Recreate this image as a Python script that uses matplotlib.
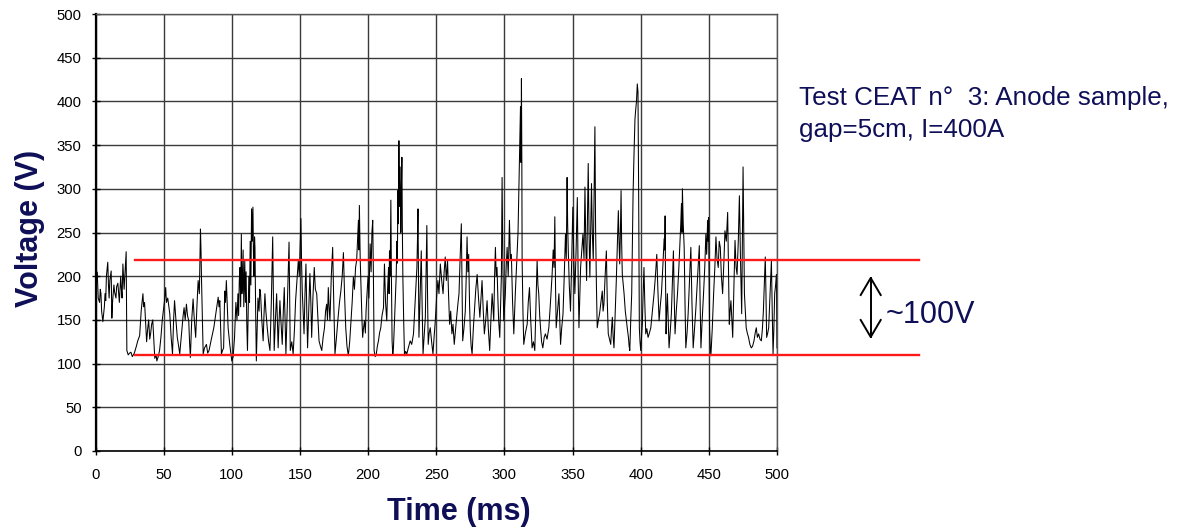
import matplotlib
matplotlib.use("Agg")
import matplotlib.pyplot as plt
from matplotlib.lines import Line2D

# ---- data: (time ms, voltage V) ----
seg_0_100 = [
    (0.5, 183), (1, 205), (1.5, 195), (2, 175), (3, 170), (3.5, 185), (4, 180), (4.5, 160), (5.4, 148), (6, 158),
    (6.5, 165), (7, 180), (7.5, 172), (8, 200), (9, 216), (9.5, 190), (10, 175), (10.5, 195), (11.5, 206), (12, 152),
    (12.5, 170), (13.5, 190), (14, 182), (15, 175), (15.5, 188), (16.4, 192), (17, 180), (17.5, 170), (18.5, 200),
    (19, 185), (19.5, 175), (20.1, 214), (21, 185), (21.5, 200), (22.5, 228), (23, 115), (24, 110), (25, 112),
    (26, 113), (27, 108), (28.5, 112), (30, 120), (31, 126), (32.4, 132), (33.5, 160), (34.8, 180), (35.3, 165),
    (36, 170), (37, 140), (37.5, 125), (38.3, 140), (39, 150), (39.8, 128), (40.5, 135), (41.2, 145), (42, 150),
    (43, 120), (43.5, 106), (44.5, 110), (45, 103), (46, 108), (47, 115), (48, 130), (49, 150), (50.5, 170),
    (51.5, 187), (52, 170), (53, 175), (54.5, 157), (55.5, 130), (56.5, 111), (57.3, 150), (58, 172), (59, 150),
    (60, 130), (61, 120), (61.8, 111), (62.6, 125), (63.5, 140), (64.3, 155), (65, 164), (65.8, 150), (66.7, 168),
    (67.5, 155), (68.4, 149), (69, 125), (69.6, 107), (70.6, 150), (71.6, 174), (72.5, 150), (73.5, 130),
    (74.4, 165), (75.3, 195), (76.2, 180), (77, 254), (77.4, 230), (77.8, 195), (78.4, 150), (79, 111), (80, 118),
    (81.4, 122), (82.3, 112), (83.3, 115), (85, 128), (86.8, 141), (88.5, 160), (90, 176), (90.6, 165), (91.2, 172),
    (92.4, 111), (93.2, 115), (94, 118), (94.8, 183), (95.4, 170), (96, 195), (96.7, 165), (97.3, 141), (98.5, 122),
    (99.3, 112), (100, 103),
]
seg_100_200 = [
    (101, 108), (102, 130), (103, 170), (103.8, 150), (104.5, 180), (105, 155), (105.5, 195), (106, 210),
    (106.5, 165), (107, 248), (107.4, 180), (107.8, 190), (108.3, 230), (108.8, 165), (109.5, 218), (110, 170),
    (110.5, 205), (111, 145), (111.5, 115), (112, 160), (112.5, 200), (113, 170), (113.5, 240), (114, 190),
    (114.5, 277), (115, 240), (115.5, 279), (116, 210), (116.3, 200), (116.7, 245), (117, 233), (117.5, 160),
    (118, 103), (118.6, 140), (119.2, 175), (120, 160), (120.5, 185), (121, 183), (122, 150), (123, 126),
    (123.6, 155), (124.3, 180), (125, 160), (126, 141), (127, 125), (128, 115), (129, 170), (130, 245), (130.5, 180),
    (131.1, 115), (132, 150), (132.9, 180), (133.4, 150), (134, 118), (134.6, 145), (135.3, 172), (136, 150),
    (137, 122), (137.8, 160), (138.5, 187), (139.1, 150), (139.7, 111), (140.8, 170), (142, 239), (142.4, 180),
    (142.9, 115), (144, 125), (145, 111), (146, 140), (146.8, 172), (147.8, 195), (148.8, 218), (149.5, 200),
    (150.2, 240), (150.7, 266), (151.2, 215), (151.7, 183), (152.3, 160), (153, 134), (153.7, 180), (154.4, 214),
    (155, 160), (155.6, 118), (156.4, 160), (157.3, 203), (158, 170), (158.6, 130), (159.5, 175), (160.5, 210),
    (161.3, 185), (162.3, 180), (163.2, 150), (164, 126), (165, 120), (166, 115), (167, 130), (168, 141),
    (168.8, 160), (169.6, 168), (170.2, 150), (170.8, 187), (171.4, 165), (172, 149), (173, 200), (174, 233),
    (174.8, 170), (175.7, 111), (176.8, 130), (178, 153), (179, 170), (180, 183), (181, 200), (181.9, 227),
    (182.7, 180), (183.6, 141), (184.5, 120), (185.5, 109), (186.5, 125), (187.5, 149), (188.3, 170), (189.2, 199),
    (190, 185), (190.8, 210), (191.6, 218), (192.2, 240), (192.9, 264), (193.3, 230), (193.6, 281), (194.2, 220),
    (194.9, 180), (195.5, 150), (196, 130), (196.6, 140), (197.3, 149), (198, 135), (198.5, 160), (199.2, 180),
    (200, 200),
]
seg_200_300 = [
    (200.6, 175), (201.5, 237), (202.2, 205), (202.8, 250), (203.4, 264), (203.9, 200), (204.4, 115), (205.2, 108),
    (206, 111), (206.8, 120), (207.6, 126), (208.4, 135), (209.3, 141), (210.2, 155), (211.3, 164), (212, 214),
    (212.8, 170), (213.7, 149), (214.3, 185), (215, 210), (215.4, 180), (215.7, 229), (216.2, 200), (216.7, 287),
    (217.1, 200), (217.6, 126), (218.1, 110), (218.6, 118), (219.6, 160), (220.6, 199), (221.1, 240), (221.5, 215),
    (221.8, 298), (222.2, 260), (222.6, 355), (223, 280), (223.5, 325), (224, 250), (224.4, 300), (224.8, 336),
    (225.1, 260), (225.5, 199), (226.1, 150), (226.7, 109), (227.5, 114), (228.4, 111), (229.5, 118), (230.9, 126),
    (232, 122), (233.3, 134), (234.5, 170), (235.8, 210), (236.2, 240), (236.6, 277), (237, 200), (237.3, 130),
    (238.2, 180), (239, 229), (239.6, 170), (240.3, 111), (241.1, 130), (242, 153), (242.6, 210), (243.1, 258),
    (243.6, 180), (244.1, 122), (244.8, 135), (245.6, 141), (246.6, 125), (247.6, 111), (248.4, 130), (249.3, 149),
    (250.2, 175), (251.2, 195), (252, 180), (253, 214), (254, 195), (255, 180), (255.8, 205), (256.6, 222),
    (257.4, 195), (258.3, 218), (259, 180), (259.8, 145), (260.6, 160), (261.5, 134), (262.3, 145), (263.2, 122),
    (264.2, 140), (265.2, 157), (266, 170), (266.7, 180), (267.5, 220), (268.4, 260), (268.9, 190), (269.4, 126),
    (270.3, 140), (271.3, 160), (272, 200), (272.6, 245), (273.2, 205), (273.8, 225), (274.4, 170), (275, 137),
    (275.6, 120), (276.3, 111), (277.2, 140), (278.2, 164), (279, 185), (280, 202), (281, 175), (282, 153),
    (282.8, 175), (283.6, 195), (284.5, 160), (285.3, 134), (286.3, 150), (287.3, 172), (288.2, 140), (289.2, 115),
    (290.1, 150), (291, 180), (291.6, 165), (292.2, 149), (292.8, 200), (293.4, 233), (294, 200), (294.6, 210),
    (295.2, 175), (295.8, 149), (296.6, 130), (297.2, 165), (297.8, 202), (298.3, 313), (298.9, 210), (299.5, 149),
    (300.1, 165), (300.7, 180),
]
seg_300_400 = [
    (301.3, 210), (302, 233), (302.8, 200), (303.7, 264), (304.4, 220), (305.1, 225), (306, 170), (306.9, 134),
    (307.5, 160), (308, 180), (308.7, 205), (309.3, 225), (310, 250), (310.6, 298), (311.2, 340), (311.8, 394),
    (312.2, 330), (312.5, 426), (312.8, 330), (313, 218), (313.6, 160), (314.2, 122), (315.4, 135), (316.7, 145),
    (317.5, 170), (318.4, 187), (319.3, 150), (320.3, 118), (321.3, 125), (322.3, 115), (323.2, 170), (324, 218),
    (324.6, 190), (325.2, 180), (325.9, 155), (326.5, 141), (327.3, 125), (328.2, 118), (329.2, 130), (330.1, 134),
    (331.3, 128), (332.6, 141), (333.8, 170), (335, 202), (335.8, 230), (336.4, 210), (337, 268), (337.5, 190),
    (338, 141), (339, 160), (340, 180), (340.6, 150), (341.2, 122), (342, 140), (343, 157), (343.9, 200),
    (344.8, 248), (345.4, 220), (346, 313), (346.4, 260), (346.8, 233), (347.6, 190), (348.5, 160), (349.4, 220),
    (350.2, 279), (350.9, 220), (351.7, 180), (352.6, 230), (353.5, 290), (354.1, 200), (354.7, 141), (355.3, 175),
    (355.9, 210), (356.8, 230), (357.6, 248), (358.4, 220), (359.1, 302), (359.7, 240), (360.3, 195), (360.9, 260),
    (361.5, 329), (362.1, 250), (362.7, 199), (363.3, 250), (363.9, 306), (364.5, 250), (365.2, 218), (365.8, 290),
    (366.4, 371), (366.7, 300), (366.9, 256), (367.5, 190), (368.1, 141), (369, 150), (369.8, 157), (370.8, 170),
    (371.8, 183), (372.4, 160), (373, 168), (373.9, 200), (374.8, 229), (375.5, 170), (376.2, 134), (377.1, 128),
    (378, 122), (378.6, 140), (379.2, 153), (379.8, 130), (380.4, 118), (381.3, 160), (382.1, 195), (382.9, 240),
    (383.6, 275), (384.1, 240), (384.6, 214), (385.1, 250), (385.6, 298), (386, 240), (386.5, 202), (387.2, 190),
    (387.8, 180), (388.7, 160), (389.5, 149), (390.2, 140), (391, 130), (391.5, 120), (392, 115), (392.7, 150),
    (393.4, 180), (393.9, 240), (394.4, 294), (395.1, 340), (395.8, 380), (396.3, 390), (396.9, 400), (397.5, 420),
    (398, 411), (398.5, 294), (399, 141), (399.5, 125), (400, 115),
]
seg_400_500 = [
    (400.6, 130), (401.2, 145), (401.8, 180), (402.4, 210), (403, 170), (403.7, 134), (404.5, 140), (405.4, 130),
    (406.4, 135), (407.4, 141), (408.6, 160), (409.8, 180), (410.8, 200), (411.8, 225), (412.6, 185), (413.5, 149),
    (414.3, 165), (415.2, 180), (416.2, 210), (417.2, 243), (417.6, 230), (417.9, 269), (418.2, 200), (418.6, 134),
    (419.1, 160), (419.6, 180), (420.2, 150), (420.8, 118), (421.6, 135), (422.5, 157), (423.2, 190), (424, 229),
    (424.6, 175), (425.2, 134), (426.1, 160), (427, 180), (428, 210), (428.9, 241), (429.4, 260), (429.9, 283),
    (430.3, 250), (430.6, 300), (431.2, 260), (431.9, 233), (432.5, 170), (433.1, 118), (434, 135), (434.8, 157),
    (435.8, 195), (436.8, 233), (437.6, 170), (438.5, 118), (439.5, 140), (440.5, 164), (441.8, 200), (443, 235),
    (443.6, 170), (444.2, 118), (445.1, 150), (446.1, 180), (447, 210), (447.8, 248), (448.4, 225), (449.1, 264),
    (449.5, 240), (449.8, 267), (450.2, 200), (450.5, 141), (451, 120), (451.5, 109), (452.5, 140), (453.5, 180),
    (454.4, 210), (455.2, 245), (456, 220), (456.9, 210), (457.6, 240), (458.4, 233), (459.2, 200), (460.1, 180),
    (461, 215), (461.8, 252), (462.8, 240), (463.8, 273), (464.4, 210), (465, 145), (465.6, 160), (466.2, 172),
    (466.9, 150), (467.5, 130), (468.3, 180), (469.2, 241), (470, 210), (470.7, 202), (471.6, 240), (472.4, 292),
    (473.2, 220), (474.1, 157), (474.6, 240), (475.1, 325), (475.6, 250), (476.1, 180), (476.8, 160), (477.4, 141),
    (478.2, 135), (479.1, 130), (480.1, 122), (481.1, 118), (482.1, 120), (483.1, 126), (484, 135), (484.8, 141),
    (485.6, 130), (486.5, 134), (487.5, 128), (488.5, 126), (489.3, 140), (490, 160), (490.7, 190), (491.4, 222),
    (491.9, 180), (492.4, 130), (493.2, 135), (493.9, 141), (494.9, 180), (495.9, 218), (496.5, 160), (497.1, 111),
    (497.7, 140), (498.3, 180), (499, 190), (499.6, 202), (500, 118),
]

band_levels = [218, 110]          # red reference lines (V)
band_span = [29, 604]             # their extent in ms (runs past the plot)
x_ticks = [0, 50, 100, 150, 200, 250, 300, 350, 400, 450, 500]
y_ticks = [0, 50, 100, 150, 200, 250, 300, 350, 400, 450, 500]

title_lines = ["Test CEAT n\u00b0  3: Anode sample,", "gap=5cm, I=400A"]
band_label = "~100V"
x_label = "Time (ms)"
y_label = "Voltage (V)"

series = seg_0_100 + seg_100_200 + seg_200_300 + seg_300_400 + seg_400_500
time_ms = [p[0] for p in series]
voltage_v = [p[1] for p in series]

# ---- figure ----
W, H = 1192, 532
plt.rcParams['font.family'] = ['Liberation Sans', 'DejaVu Sans']
fig = plt.figure(figsize=(W / 100, H / 100), dpi=100)
fig.patch.set_facecolor('white')

def fx(px):
    return px / W

def fy(py):
    return 1 - py / H

ax = fig.add_axes([fx(95.5), fy(451), fx(777) - fx(95.5), fy(14) - fy(451)])
ax.set_xlim(0, 500)
ax.set_ylim(0, 500)
ax.set_xticks(x_ticks)
ax.set_yticks(y_ticks)
ax.grid(True, color='#3a3a3a', linewidth=1.0)
ax.set_axisbelow(True)
for s in ['top', 'right']:
    ax.spines[s].set_color('#555555')
    ax.spines[s].set_linewidth(1.0)
ax.spines['left'].set_color('black')
ax.spines['left'].set_linewidth(1.6)
ax.spines['bottom'].set_color('black')
ax.spines['bottom'].set_linewidth(1.2)
ax.tick_params(axis='both', direction='inout', length=6, width=1, labelsize=10.7, colors='black')
ax.tick_params(axis='y', pad=7)
ax.tick_params(axis='x', pad=9)

ax.plot(time_ms, voltage_v, color='black', linewidth=0.75)

for lvl in band_levels:
    ax.plot(band_span, [lvl, lvl], color='#ff1a1a', linewidth=1.7, clip_on=False, zorder=5)

navy = '#0f0f58'
fig.text(fx(799), fy(105), title_lines[0], fontsize=18.7, color=navy, va='baseline', ha='left')
fig.text(fx(799), fy(136.7), title_lines[1], fontsize=18.7, color=navy, va='baseline', ha='left')
fig.text(fx(886), fy(323), band_label, fontsize=22, color=navy, va='baseline', ha='left')

fig.text(fx(459), fy(512), x_label, fontsize=22, fontweight='bold', color=navy, ha='center', va='center')
fig.text(fx(30), fy(228), y_label, fontsize=22, fontweight='bold', color=navy, ha='center', va='center',
         rotation=90)

# double-headed open arrow
ax_x, y_top, y_bot = 870.7, 278, 337
hw, hl = 10, 17
arrow_lines = [
    ([ax_x, ax_x], [y_top, y_bot]),
    ([ax_x - hw, ax_x, ax_x + hw], [y_top + hl, y_top, y_top + hl]),
    ([ax_x - hw, ax_x, ax_x + hw], [y_bot - hl, y_bot, y_bot - hl]),
]
for xs, ys in arrow_lines:
    fig.add_artist(Line2D([fx(v) for v in xs], [fy(v) for v in ys], color='black', linewidth=1.4,
                          transform=fig.transFigure))

fig.savefig('out.png', dpi=100, facecolor='white')
